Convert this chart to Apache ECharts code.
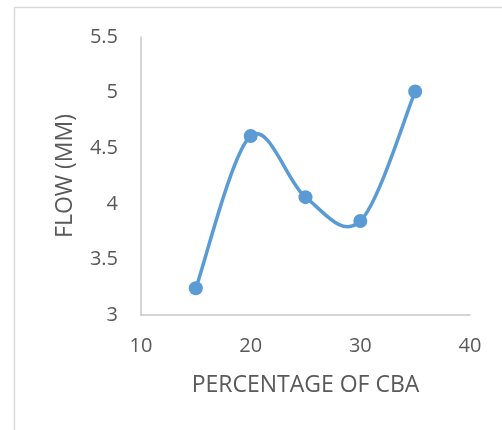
<!DOCTYPE html>
<html>
<head>
<meta charset="utf-8">
<script src="https://cdn.jsdelivr.net/npm/echarts@6/dist/echarts.min.js"></script>
<style>
  html, body { margin: 0; padding: 0; background: #fff; }
  #chart { width: 502px; height: 430px; }
</style>
</head>
<body>
<div id="chart"></div>
<script>
// CBA percentage against measured flow
const cbaPercent = [15, 20, 25, 30, 35];
const flowMM = [3.24, 4.61, 4.06, 3.845, 5.01];
const xTicks = [10, 20, 30, 40];
const yTicks = [3, 3.5, 4, 4.5, 5, 5.5];

const points = cbaPercent.map((x, i) => [x, flowMM[i]]);
const chart = echarts.init(document.getElementById('chart'));
const textColor = '#595959';
const lineColor = '#5b9bd5';
const font = '"Open Sans", "Liberation Sans", sans-serif';

// One cubic Bezier per segment, tangents from the neighbouring points
// (Catmull-Rom style, tension 1/6), computed in pixel space.
function renderSegment(params, api) {
  const i = params.dataIndex;
  const n = points.length;
  if (i >= n - 1) return null;
  const at = k => api.coord(points[Math.max(0, Math.min(n - 1, k))]);
  const p0 = at(i - 1), p1 = at(i), p2 = at(i + 1), p3 = at(i + 2);
  return {
    type: 'bezierCurve',
    shape: {
      x1: p1[0], y1: p1[1],
      cpx1: p1[0] + (p2[0] - p0[0]) / 6,
      cpy1: p1[1] + (p2[1] - p0[1]) / 6,
      cpx2: p2[0] - (p3[0] - p1[0]) / 6,
      cpy2: p2[1] - (p3[1] - p1[1]) / 6,
      x2: p2[0], y2: p2[1]
    },
    style: { fill: null, stroke: lineColor, lineWidth: 3.5, lineCap: 'round' }
  };
}

chart.setOption({
  animation: false,
  backgroundColor: '#fff',
  graphic: [{
    type: 'rect',
    shape: { x: 14.5, y: 7.5, width: 600, height: 600 },
    style: { fill: 'none', stroke: '#d9d9d9', lineWidth: 1.5 },
    silent: true
  }],
  grid: { left: 141, right: 32, top: 37, bottom: 115 },
  xAxis: {
    type: 'value',
    min: xTicks[0],
    max: xTicks[xTicks.length - 1],
    interval: 10,
    name: 'PERCENTAGE OF CBA',
    nameLocation: 'middle',
    nameGap: 59,
    nameTextStyle: { color: textColor, fontSize: 23, fontFamily: font },
    axisLine: { show: true, lineStyle: { color: '#c8c8c8', width: 1.5 } },
    axisTick: { show: false },
    splitLine: { show: false },
    axisLabel: { color: textColor, fontSize: 20, fontFamily: font, margin: 21 }
  },
  yAxis: {
    type: 'value',
    min: yTicks[0],
    max: yTicks[yTicks.length - 1],
    interval: 0.5,
    name: 'FLOW (MM)',
    nameLocation: 'middle',
    nameGap: 64,
    nameRotate: 90,
    nameTextStyle: { color: textColor, fontSize: 23, fontFamily: font },
    axisLine: { show: true, lineStyle: { color: '#c8c8c8', width: 1.5 } },
    axisTick: { show: false },
    splitLine: { show: false },
    axisLabel: { color: textColor, fontSize: 20, fontFamily: font, margin: 23 }
  },
  series: [{
    type: 'custom',
    data: points,
    encode: { x: 0, y: 1 },
    renderItem: renderSegment,
    z: 2
  }, {
    type: 'scatter',
    data: points,
    symbol: 'circle',
    symbolSize: 14,
    itemStyle: { color: lineColor, opacity: 1 },
    z: 3
  }]
});
</script>
</body>
</html>
